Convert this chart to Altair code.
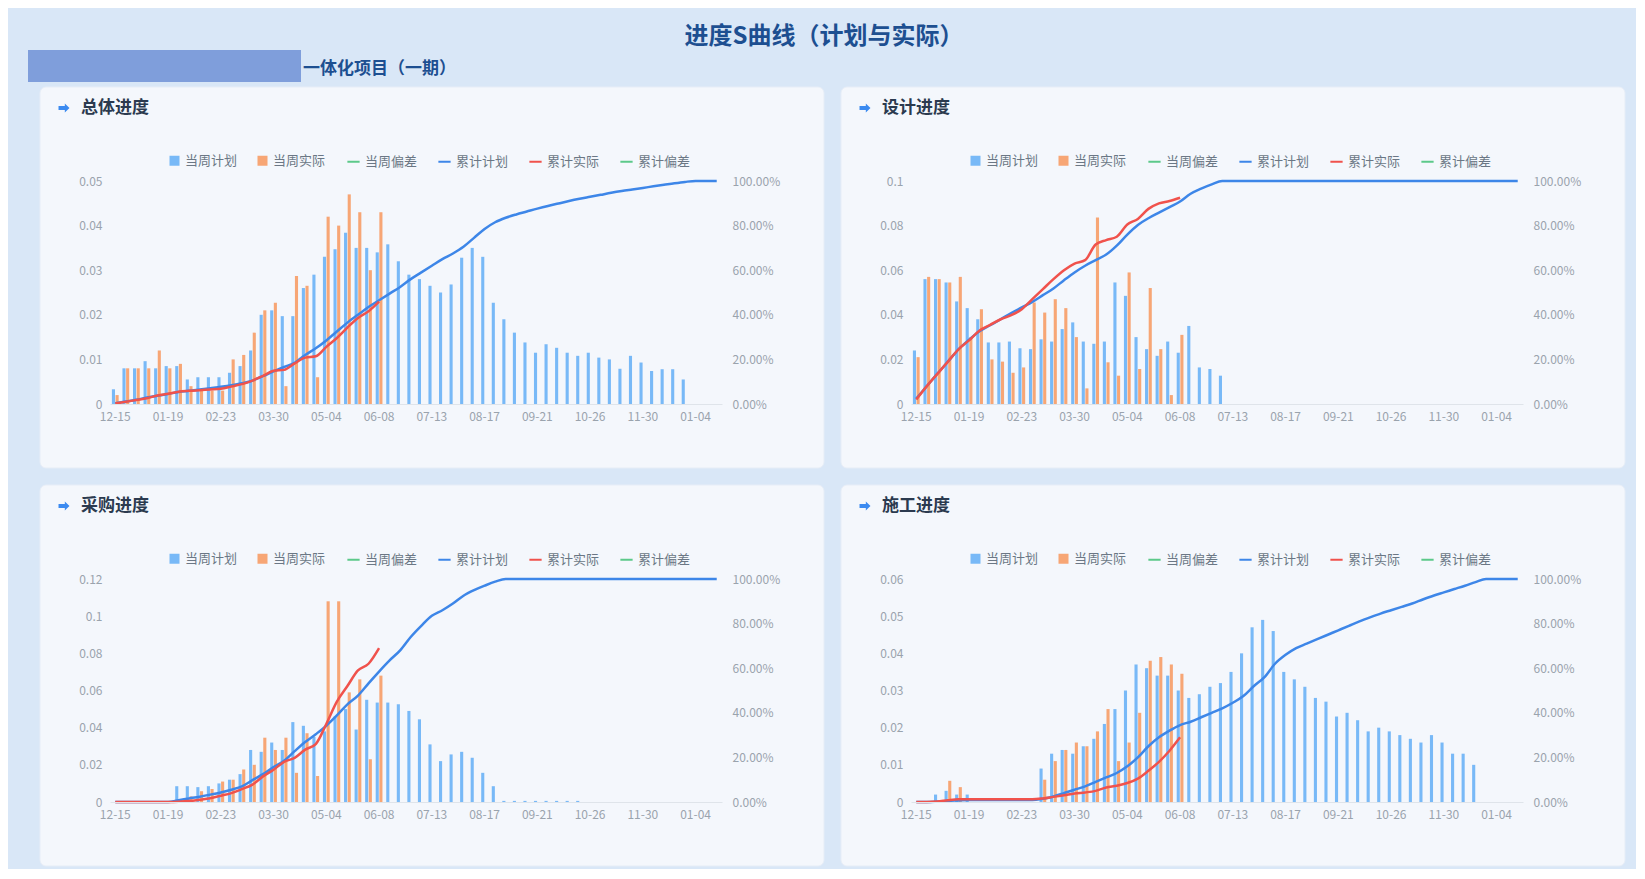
import altair as alt
import pandas as pd

FONT = "Noto Sans CJK SC"

# ---------------- categories ----------------
weeks = [d.strftime("%m-%d") for d in pd.date_range("2025-12-15", periods=58, freq="7D")]
tick_weeks = weeks[::5]
BAR_SERIES = ["当周计划", "当周实际"]
LINE_SERIES = ["当周偏差", "累计计划", "累计实际", "累计偏差"]
N = None

# ---------------- 总体进度 ----------------
plan1 = [0.0033, 0.008, 0.008, 0.0096, 0.008, 0.0085, 0.0085, 0.0055, 0.006, 0.006,
         0.006, 0.007, 0.0085, 0.012, 0.02, 0.021, 0.0197, 0.0197, 0.026, 0.029,
         0.033, 0.0347, 0.0384, 0.035, 0.035, 0.034, 0.0358, 0.032, 0.029, 0.028,
         0.0265, 0.025, 0.0268, 0.0328, 0.035, 0.033, 0.0227, 0.019, 0.016, 0.0138,
         0.0115, 0.0134, 0.0126, 0.0115, 0.0108, 0.0115, 0.0104, 0.010, 0.0079, 0.0108,
         0.0093, 0.0074, 0.0078, 0.0078, 0.0055, N, N, N]
actual1 = [0.002, 0.008, 0.008, 0.008, 0.012, 0.008, 0.009, 0.004, 0.003, 0.003,
           0.003, 0.010, 0.011, 0.016, 0.021, 0.0227, 0.004, 0.0287, 0.0265, 0.006,
           0.042, 0.040, 0.047, 0.043, 0.030, 0.043] + [N] * 32
cumplan1 = [0.3, 1.1, 1.9, 2.9, 3.7, 4.5, 5.4, 5.9, 6.5, 7.1,
            7.7, 8.4, 9.3, 10.5, 12.5, 14.6, 16.6, 18.5, 22, 25,
            28.5, 32.5, 36.5, 40, 43.5, 46.5, 49.5, 52.5, 56, 59,
            62, 65, 67.5, 70.5, 74.5, 78.5, 81.5, 83.5, 85, 86.3,
            87.6, 88.8, 89.9, 91, 92, 92.9, 93.8, 94.7, 95.5, 96.2,
            96.9, 97.6, 98.3, 99, 99.6, 100, 100, 100]
cumact1 = [0.2, 1.0, 1.8, 2.6, 3.8, 4.6, 5.5, 5.9, 6.2, 6.5,
           6.8, 7.8, 8.9, 10.5, 12.6, 14.9, 15.3, 18.2, 20.8, 21.4,
           25.6, 29.6, 34.3, 38.6, 41.6, 45.9] + [N] * 32

# ---------------- 设计进度 ----------------
plan2 = [0.024, 0.056, 0.056, 0.0545, 0.046, 0.043, 0.038, 0.0276, 0.0276, 0.028,
         0.025, 0.0246, 0.029, 0.028, 0.0336, 0.0366, 0.028, 0.027, 0.028, 0.0545,
         0.0485, 0.03, 0.0246, 0.0216, 0.028, 0.023, 0.035, 0.0164, 0.0157, 0.0127] + [N] * 28
actual2 = [0.021, 0.057, 0.056, 0.0545, 0.057, 0.03, 0.0425, 0.02, 0.019, 0.014,
           0.0164, 0.0455, 0.041, 0.047, 0.043, 0.03, 0.007, 0.0836, 0.0187, 0.0127,
           0.059, 0.0157, 0.052, 0.0246, 0.004, 0.031] + [N] * 32
cumplan2 = [2.4, 8, 13.6, 19, 24.5, 28.8, 32.6, 35.3, 38, 40.8,
            43.3, 45.8, 48.8, 51.8, 55.5, 59, 62, 64.5, 67, 71,
            76, 80.3, 83.3, 85.8, 88.3, 90.8, 94.3, 96.6, 98.5, 100] + [100] * 28
cumact2 = [2, 8, 13.5, 19, 24.5, 28.5, 33, 35.5, 38, 39.8,
           42.5, 47, 51.5, 56, 60, 63, 64.5, 71.5, 73.5, 75,
           80.5, 83, 87.5, 90, 91, 92.5] + [N] * 32

# ---------------- 采购进度 ----------------
plan3 = [N] * 6 + [0.0085, 0.0085, 0.008, 0.0085, 0.01, 0.012, 0.015, 0.028, 0.027, 0.032,
                   0.028, 0.043, 0.041, 0.035, 0.038, 0.046, 0.05, 0.039, 0.055, 0.0535,
                   0.0535, 0.0526, 0.049, 0.0445, 0.031, 0.022, 0.0256, 0.027, 0.0238, 0.0157,
                   0.0085] + [0.0006] * 8 + [N] * 13
actual3 = [N] * 6 + [0.001, 0.003, 0.0058, 0.007, 0.011, 0.012, 0.0175, 0.02, 0.0346, 0.028,
                     0.0346, 0.0157, 0.037, 0.014, 0.108, 0.108, 0.059, 0.066, 0.023, 0.068] + [N] * 32
cumplan3 = [0] * 6 + [0.8, 1.6, 2.4, 3.3, 4.3, 5.5, 7, 9.8, 12.5, 15.7,
                      18.5, 22.8, 26.9, 30.4, 34.2, 38.8, 43.8, 47.7, 53.2, 58.5,
                      63.5, 68, 74, 79, 83.5, 86, 89, 92.5, 95, 97,
                      98.8, 100] + [100] * 20
cumact3 = [0] * 6 + [0.1, 0.4, 1.0, 1.7, 2.8, 4.0, 5.8, 7.8, 11.5, 14.5,
                     18, 19.8, 23.5, 26, 35, 45, 52, 59, 62, 69] + [N] * 32

# ---------------- 施工进度 ----------------
plan4 = [N, N, 0.002, 0.003, 0.002, 0.002] + [N] * 6 + [
    0.009, 0.013, 0.014, 0.013, 0.015, 0.017, 0.021, 0.025, 0.03,
    0.037, 0.036, 0.034, 0.034, 0.03, 0.028, 0.029, 0.031, 0.032, 0.035,
    0.04, 0.047, 0.049, 0.046, 0.035, 0.033, 0.031, 0.028, 0.027, 0.023,
    0.024, 0.022, 0.019, 0.02, 0.019, 0.018, 0.017, 0.016, 0.018, 0.016,
    0.013, 0.013, 0.01] + [N] * 4
actual4 = [N, N, N, 0.0057, 0.004] + [N] * 7 + [
    0.006, 0.011, 0.014, 0.016, 0.015, 0.019, 0.025, 0.011, 0.016, 0.024,
    0.038, 0.039, 0.037, 0.0345] + [N] * 32
cumplan4 = [0, 0, 0.2, 0.5, 0.7, 0.9, 0.9, 0.9, 0.9, 0.9, 0.9, 0.9,
            1.5, 2.5, 4, 5.5, 7, 9, 11, 13, 16, 20,
            25, 29, 32, 34.5, 36, 38, 40, 42, 44.5, 47.5,
            52, 56, 62, 66, 69, 71, 73, 75, 77, 79,
            81, 82.8, 84.5, 86, 87.5, 89, 90.8, 92.5, 94, 95.5,
            97, 98.6, 100, 100, 100, 100]
cumact4 = [0, 0, 0.2, 0.8, 1.2, 1.2, 1.2, 1.2, 1.2, 1.2, 1.2, 1.2,
           1.6, 2.3, 3.0, 3.8, 4.3, 5, 6.5, 7.3, 8.5, 10.5, 14, 18, 23, 29] + [N] * 32

# ---------------- style ----------------
W, H = 612, 223
C_PLAN_BAR = "#6ab1f6"
C_ACT_BAR = "#f79c66"
C_GREEN = "#5cc98a"
C_BLUE = "#3d86e8"
C_RED = "#f0524c"
LABEL_C = "#9aa3ad"
one = pd.DataFrame({"k": [0]})


def long_df(series_map):
    rows = []
    for name, vals in series_map.items():
        for w, v in zip(weeks, vals):
            if v is not None:
                rows.append({"week": w, "series": name, "value": v})
    return pd.DataFrame(rows)


def panel(title, plan, actual, cplan, cact, ymax, yvals, extend_bottom=False):
    bars_df = long_df({"当周计划": plan, "当周实际": actual})
    lines_df = long_df({"累计计划": [v / 100 if v is not None else None for v in cplan],
                        "累计实际": [v / 100 if v is not None else None for v in cact]})

    xenc = alt.X("week:O",
                 scale=alt.Scale(domain=weeks, paddingInner=0.36, paddingOuter=0.18),
                 axis=alt.Axis(values=tick_weeks, labelAngle=0, title=None, ticks=False,
                               domainColor="#dfe4ea", labelColor=LABEL_C, labelFontSize=12,
                               labelPadding=7, labelFont=FONT, grid=False, zindex=2))

    card = alt.Chart(one).mark_rect(fill="#f4f7fc", stroke="#e6edf7", cornerRadius=6).encode(
        x=alt.value(-70), x2=alt.value(W + 102), y=alt.value(-94), y2=alt.value(H + 64))

    icon = alt.Chart(one).mark_point(
        shape="M-1,-0.35 L0.15,-0.35 L0.15,-0.8 L1,0 L0.15,0.8 L0.15,0.35 L-1,0.35 Z",
        filled=True, color="#3b8af0", opacity=1, size=120).encode(
        x=alt.value(-46), y=alt.value(-73))
    ttl = alt.Chart(one).mark_text(text=title, align="left", baseline="middle", fontSize=17,
                                   fontWeight="bold", color="#2b3a4f", font=FONT).encode(
        x=alt.value(-29), y=alt.value(-73))

    bar = alt.Chart(bars_df).mark_bar(opacity=0.9).encode(
        x=xenc,
        xOffset=alt.XOffset("series:N", scale=alt.Scale(domain=BAR_SERIES, paddingInner=0.15)),
        y=alt.Y("value:Q", scale=alt.Scale(domain=[0, ymax]),
                axis=alt.Axis(orient="left", values=yvals, labelExpr="format(datum.value, '~g')",
                              title=None, domain=False, ticks=False, grid=False, zindex=2,
                              labelColor=LABEL_C, labelFontSize=12, labelPadding=8, labelFont=FONT)),
        fill=alt.Fill("series:N", scale=alt.Scale(domain=BAR_SERIES, range=[C_PLAN_BAR, C_ACT_BAR]),
                      legend=alt.Legend(orient="none", legendX=58, legendY=-27, direction="horizontal",
                                        title=None, symbolType="square", symbolSize=100, zindex=2,
                                        labelFontSize=13, labelColor="#6b7785", labelFont=FONT,
                                        columnPadding=18)),
    )

    line = alt.Chart(lines_df).mark_line(interpolate="monotone", strokeWidth=2.5).encode(
        x=xenc,
        y=alt.Y("value:Q", scale=alt.Scale(domain=[0, 1]),
                axis=alt.Axis(orient="right", values=[0, 0.2, 0.4, 0.6, 0.8, 1], format=".2%",
                              title=None, domain=False, ticks=False, grid=False, zindex=2,
                              labelColor=LABEL_C, labelFontSize=12, labelPadding=10, labelFont=FONT)),
        stroke=alt.Stroke("series:N",
                          scale=alt.Scale(domain=LINE_SERIES, range=[C_GREEN, C_BLUE, C_RED, C_GREEN]),
                          legend=alt.Legend(orient="none", legendX=236, legendY=-27, direction="horizontal",
                                            title=None, symbolType="stroke", symbolStrokeWidth=2, zindex=2,
                                            symbolSize=150, labelFontSize=13, labelColor="#6b7785",
                                            labelFont=FONT, columnPadding=16)),
    )

    layers = [card]
    if extend_bottom:
        layers.append(alt.Chart(one).mark_rect(opacity=0).encode(
            x=alt.value(0), x2=alt.value(2), y=alt.value(H + 64), y2=alt.value(H + 76)))
    layers += [bar, line, icon, ttl]
    return alt.layer(*layers).resolve_scale(y="independent").properties(width=W, height=H)


p1 = panel("总体进度", plan1, actual1, cumplan1, cumact1, 0.05,
           [0, 0.01, 0.02, 0.03, 0.04, 0.05], extend_bottom=True)
p2 = panel("设计进度", plan2, actual2, cumplan2, cumact2, 0.1,
           [0, 0.02, 0.04, 0.06, 0.08, 0.1])
p3 = panel("采购进度", plan3, actual3, cumplan3, cumact3, 0.12,
           [0, 0.02, 0.04, 0.06, 0.08, 0.1, 0.12])
p4 = panel("施工进度", plan4, actual4, cumplan4, cumact4, 0.06,
           [0, 0.01, 0.02, 0.03, 0.04, 0.05, 0.06])

# ---------------- header (coordinates relative to first panel's plot origin) ----------------
HW = 1511
h_bg = alt.Chart(one).mark_rect(opacity=0).encode(
    x=alt.value(-82), x2=alt.value(HW), y=alt.value(0), y2=alt.value(74))
h_redact = alt.Chart(one).mark_rect(fill="#7f9edb").encode(
    x=alt.value(-82), x2=alt.value(191), y=alt.value(42), y2=alt.value(74))
h_title = alt.Chart(one).mark_text(text="进度S曲线（计划与实际）", fontSize=24, fontWeight="bold",
                                   color="#1d4f91", font=FONT, baseline="middle").encode(
    x=alt.value(714), y=alt.value(29))
h_sub = alt.Chart(one).mark_text(text="一体化项目（一期）", align="left", baseline="middle", fontSize=17,
                                 fontWeight="bold", color="#1d4f91", font=FONT).encode(
    x=alt.value(193), y=alt.value(61))
header = alt.layer(h_bg, h_redact, h_title, h_sub).properties(width=HW, height=74)

row1 = alt.hconcat(p1, p2, spacing=15).resolve_scale(fill="independent", stroke="independent")
row2 = alt.hconcat(p3, p4, spacing=15).resolve_scale(fill="independent", stroke="independent")

chart = alt.vconcat(header, row1, row2, spacing=4).resolve_scale(
    fill="independent", stroke="independent"
).properties(
    padding={"left": 20, "top": 0, "right": 10, "bottom": 2}
).configure(background="#d9e7f7", font=FONT).configure_view(stroke=None)

chart.save("out.html", embed_options={"renderer": "svg", "actions": False})
